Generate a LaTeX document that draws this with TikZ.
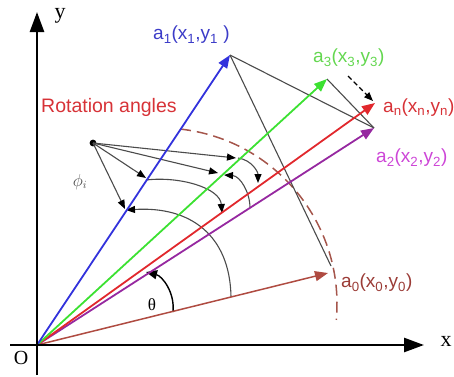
\documentclass[tikz,border=0pt]{standalone}
\usepackage{fontspec}
\setmainfont{Liberation Serif}
\newfontfamily\labfont{Liberation Sans}
\usetikzlibrary{arrows.meta}
\definecolor{vblue}{RGB}{50,50,220}
\definecolor{vgreen}{RGB}{60,225,50}
\definecolor{vred}{RGB}{225,40,45}
\definecolor{vpurple}{RGB}{150,40,160}
\definecolor{vbrown}{RGB}{175,75,65}
\definecolor{lblue}{RGB}{60,60,200}
\definecolor{lgreen}{RGB}{100,215,80}
\definecolor{lred}{RGB}{215,50,55}
\definecolor{lmag}{RGB}{205,70,215}
\definecolor{lbrown}{RGB}{155,60,55}
\definecolor{graycol}{RGB}{75,75,75}
\definecolor{dashbrown}{RGB}{165,85,75}
\begin{document}
\begin{tikzpicture}[x=1pt,y=-1pt,
  vecline/.style={line width=1.8pt,-{Triangle[length=13pt,width=10pt]}},
  gline/.style={draw=graycol,line width=1.1pt},
  smallarr/.style={draw=graycol,line width=1.1pt,-{Triangle[length=9pt,width=7pt,color=black]}},
  axisline/.style={line width=2.6pt,-{Triangle[length=20pt,width=14pt]}},
  labtext/.style={font=\labfont\fontsize{19}{19}\selectfont,anchor=west,inner sep=0pt},
  axlab/.style={font=\fontsize{22}{22}\selectfont,inner sep=0pt}
]
\useasboundingbox (0,0) rectangle (454,376);
% coordinates
\coordinate (O) at (37,345);
\coordinate (xs) at (10,345);
\coordinate (xe) at (424,345);
\coordinate (ys) at (37,375);
\coordinate (ye) at (37,12);
\coordinate (A1) at (230,55);
\coordinate (A3) at (327,79);
\coordinate (AN) at (375,103);
\coordinate (A2) at (374,128);
\coordinate (A0) at (328,273);
\coordinate (G1) at (331,266);
\coordinate (dA) at (348,76);
\coordinate (dB) at (373,101);
\coordinate (P) at (93,143);
\coordinate (dc) at (161,304);
% arc endpoints
\coordinate (SA) at (231,297);
\coordinate (EA) at (126,210);
\coordinate (SB) at (146,180);
\coordinate (EB) at (222,213);
\coordinate (SC) at (250,208);
\coordinate (EC) at (224,175);
\coordinate (SD) at (238,158);
\coordinate (ED) at (258,183);
\coordinate (ST) at (173,312);
\coordinate (ET) at (146,272);
\coordinate (R1) at (146,178);
\coordinate (R2) at (125,209);
\coordinate (R3) at (218,173);
\coordinate (R4) at (236,158);

% dashed brown arc
\draw[dashbrown,line width=1.5pt,dash pattern=on 11pt off 6pt] (dc) ++(-83.8:176) arc[start angle=-83.8,end angle=5.2,radius=176];

% gray construction lines
\draw[gline] (A1) -- (A2);
\draw[gline] (A1) -- (G1);
\draw[gline] (A3) -- (A2);
\draw[line width=1.1pt,dash pattern=on 5pt off 3pt,-{Triangle[length=9pt,width=7pt]}] (dA) -- (dB);

% arcs
\draw[smallarr] (SA) .. controls (230,235) and (190,206) .. (EA);
\draw[smallarr] (SB) .. controls (180,176) and (220,188) .. (EB);
\draw[smallarr] (SC) .. controls (250,192) and (240,176) .. (EC);
\draw[smallarr] (SD) .. controls (252,160) and (258,172) .. (ED);
\draw[line width=1.4pt,-{Triangle[length=11pt,width=9pt]}] (ST) .. controls (175,292) and (162,276) .. (ET);

% rays
\fill (P) circle (3.4pt);
\draw[smallarr] (P) -- (R1);
\draw[smallarr] (P) -- (R2);
\draw[smallarr] (P) -- (R3);
\draw[smallarr] (P) -- (R4);

% vectors
\draw[vecline,vbrown,line width=1.5pt] (O) -- (A0);
\draw[vecline,vpurple] (O) -- (A2);
\draw[vecline,vred] (O) -- (AN);
\draw[vecline,vgreen] (O) -- (A3);
\draw[vecline,vblue] (O) -- (A1);

% axes
\draw[axisline] (xs) -- (xe);
\draw[axisline] (ys) -- (ye);

% labels
\node[axlab] (ly) at (60,16) {y};
\node[axlab] (lx) at (446,341) {x};
\node[axlab,font=\fontsize{20}{20}\selectfont] (lo) at (21,358) {O};
\node[axlab,font=\fontsize{17}{17}\selectfont] (lt) at (152,305) {θ};
\node[inner sep=0pt,text=graycol,font=\fontsize{16}{16}\selectfont] (lphi) at (80,182) {$\phi_i$};
\node[labtext,lred,font=\labfont\fontsize{19.5}{19.5}\selectfont] (lrot) at (41,107) {Rotation angles};
\node[labtext,lblue] (la1) at (153,35) {a\textsubscript{1}(x\textsubscript{1},y\textsubscript{1} )};
\node[labtext,lgreen] (la3) at (313,58) {a\textsubscript{3}(x\textsubscript{3},y\textsubscript{3})};
\node[labtext,lred] (lan) at (383,108) {a\textsubscript{n}(x\textsubscript{n},y\textsubscript{n})};
\node[labtext,lmag] (la2) at (376,158) {a\textsubscript{2}(x\textsubscript{2},y\textsubscript{2})};
\node[labtext,lbrown] (la0) at (341,283) {a\textsubscript{0}(x\textsubscript{0},y\textsubscript{0})};
\end{tikzpicture}
\end{document}
